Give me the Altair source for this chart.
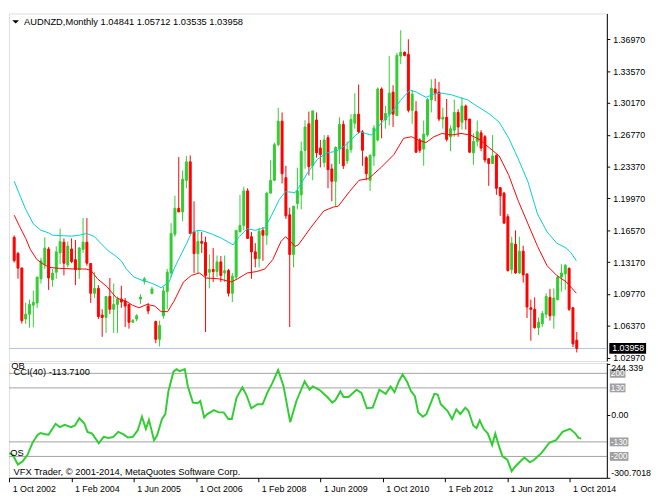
import json
import altair as alt
import pandas as pd

# ---------------- data ----------------
symbol = "AUDNZD,Monthly"

open_ = [1.1582,1.1409,1.1254,1.0710,1.0762,1.0858,1.0882,1.1140,1.1295,1.1458,
         1.1130,1.1210,1.1416,1.1530,1.1289,1.1458,1.1344,1.1238,1.1454,1.1530,
         1.1303,1.0985,1.1037,1.0752,1.0727,1.0951,1.0814,1.0866,1.0923,1.0900,
         1.0866,1.0675,1.0710,1.0923,1.1114,1.0848,1.0982,1.0683,1.0494,1.0745,
         1.1003,1.1202,1.1616,1.1892,1.1853,1.2191,1.2388,1.1640,1.1409,1.1537,
         1.1527,1.1210,1.1238,1.1217,1.1320,1.1202,1.1227,1.0985,1.1158,1.1640,
         1.1709,1.2078,1.1589,1.1427,1.1354,1.1657,1.1605,1.2054,1.2191,1.2571,
         1.2822,1.2219,1.1822,1.1399,1.1943,1.2036,1.2509,1.2794,1.2346,1.2835,
         1.2535,1.2380,1.2646,1.2312,1.2181,1.2525,1.2788,1.2398,1.2519,1.2801,
         1.2897,1.2708,1.2432,1.2191,1.2450,1.2622,1.3166,1.2835,1.2897,1.3132,
         1.2881,1.3517,1.3558,1.3535,1.2938,1.2925,1.2622,1.2525,1.2674,1.3052,
         1.3166,1.3132,1.2845,1.2863,1.2656,1.2726,1.2915,1.2811,1.2984,1.2845,
         1.2484,1.2605,1.2698,1.2656,1.2422,1.2370,1.2457,1.2112,1.2054,1.1802,
         1.1238,1.1509,1.1202,1.1434,1.1192,1.0830,1.0814,1.0618,1.0659,1.0762,
         1.0941,1.0745,1.0917,1.1158,1.1192,1.1251,1.0830,1.04841]

high = [1.1602,1.1427,1.1261,1.0882,1.0917,1.1013,1.1158,1.1365,1.1582,1.1478,
        1.1244,1.1486,1.1675,1.1571,1.1537,1.1571,1.1554,1.1478,1.1788,1.1788,
        1.1303,1.1210,1.1072,1.0814,1.0951,1.1148,1.1089,1.0951,1.1065,1.0934,
        1.0866,1.0710,1.0762,1.0975,1.1158,1.0882,1.1055,1.0693,1.0693,1.1055,
        1.1244,1.1734,1.2026,1.2439,1.2295,1.2450,1.2457,1.1967,1.1657,1.1640,
        1.1589,1.1399,1.1468,1.1388,1.1382,1.1388,1.1244,1.1202,1.1657,1.2036,
        1.2122,1.2106,1.1640,1.1520,1.1685,1.1692,1.2070,1.2405,1.2594,1.2966,
        1.2915,1.2346,1.1899,1.1915,1.2326,1.2605,1.2832,1.2925,1.2935,1.2915,
        1.2622,1.2674,1.2674,1.2367,1.2553,1.2863,1.2829,1.2605,1.2897,1.3121,
        1.3214,1.2726,1.2450,1.2470,1.2780,1.3183,1.3183,1.2984,1.3517,1.3207,
        1.3552,1.3793,1.3566,1.3697,1.3155,1.3036,1.2639,1.2829,1.3070,1.3269,
        1.3276,1.3242,1.2966,1.3059,1.2777,1.3052,1.2949,1.3077,1.3000,1.2845,
        1.2691,1.2829,1.2726,1.2674,1.2429,1.2674,1.2467,1.2122,1.2067,1.1830,
        1.1589,1.1657,1.1589,1.1492,1.1192,1.0917,1.0941,1.0727,1.0796,1.0985,
        1.1031,1.1037,1.1176,1.1295,1.1295,1.1261,1.0838,1.05712]

low = [1.1313,1.1140,1.0662,1.0659,1.0618,1.0621,1.0830,1.1089,1.1244,1.1021,
       1.1055,1.1140,1.1295,1.1176,1.1261,1.1306,1.1072,1.1140,1.1416,1.1279,
       1.0882,1.0934,1.0710,1.0520,1.0562,1.0762,1.0562,1.0562,1.0830,1.0624,
       1.0607,1.0672,1.0686,1.0872,1.1078,1.0762,1.0975,1.0452,1.0417,1.0714,
       1.0814,1.1158,1.1589,1.1853,1.1754,1.2106,1.1623,1.1202,1.1202,1.1416,
       1.0572,1.1037,1.1106,1.1158,1.1106,1.1106,1.0951,1.0892,1.1124,1.1640,
       1.1657,1.1571,1.1140,1.1261,1.1261,1.1331,1.1502,1.2054,1.2181,1.2553,
       1.2157,1.1778,1.0624,1.1261,1.1881,1.1881,1.2315,1.2243,1.2191,1.2432,
       1.2329,1.2329,1.2106,1.1967,1.1915,1.2364,1.2312,1.2364,1.2484,1.2742,
       1.2691,1.2346,1.2191,1.2078,1.2346,1.2605,1.2639,1.2742,1.2777,1.2760,
       1.2881,1.3431,1.3514,1.2915,1.2794,1.2484,1.2484,1.2346,1.2656,1.2915,
       1.3036,1.2822,1.2742,1.2605,1.2501,1.2656,1.2656,1.2732,1.2732,1.2484,
       1.2357,1.2553,1.2501,1.2380,1.2132,1.2367,1.2036,1.1812,1.1726,1.1217,
       1.1192,1.1192,1.1192,1.1099,1.0721,1.0479,1.0607,1.0538,1.0624,1.0721,
       1.0693,1.0607,1.0910,1.1003,1.1021,1.0796,1.0411,1.03535]

close = [1.1334,1.1254,1.0693,1.0762,1.0866,1.0889,1.1158,1.1331,1.1468,1.1148,
         1.1199,1.1427,1.1537,1.1306,1.1489,1.1323,1.1238,1.1468,1.1530,1.1306,
         1.0985,1.1037,1.0737,1.0727,1.0951,1.0814,1.0866,1.0923,1.0892,1.0848,
         1.0675,1.0693,1.0745,1.0944,1.1140,1.0796,1.1031,1.0494,1.0641,1.1010,
         1.1210,1.1623,1.1892,1.1853,1.2202,1.2388,1.1623,1.1409,1.1537,1.1520,
         1.1176,1.1238,1.1217,1.1320,1.1176,1.1227,1.0985,1.1168,1.1657,1.1709,
         1.2078,1.1571,1.1427,1.1354,1.1647,1.1605,1.2054,1.2191,1.2571,1.2822,
         1.2261,1.1812,1.1399,1.1915,1.2078,1.2501,1.2760,1.2336,1.2932,1.2484,
         1.2467,1.2622,1.2305,1.2181,1.2543,1.2788,1.2346,1.2519,1.2839,1.2897,
         1.2708,1.2512,1.2261,1.2457,1.2749,1.3166,1.2835,1.2904,1.3121,1.2897,
         1.3524,1.3558,1.3524,1.2938,1.3111,1.2491,1.2512,1.2684,1.3052,1.3173,
         1.3121,1.2845,1.2863,1.2628,1.2742,1.2915,1.2760,1.2984,1.2835,1.2491,
         1.2605,1.2708,1.2535,1.2408,1.2370,1.2450,1.2106,1.2026,1.1734,1.1227,
         1.1520,1.1202,1.1434,1.1182,1.0838,1.0814,1.0618,1.0675,1.0768,1.0951,
         1.0745,1.0934,1.1158,1.1202,1.1285,1.0814,1.0445,1.03958]

# moving averages drawn on the price panel (bar position, price)
cyan_i = [0,1.75,3,5,7,9,10,13,15,17,19,21,23,24.7,26,28,29.3,31.3,33.4,35,
          36.75,38.4,40.5,41.75,43.4,45.1,46.3,48,49.25,51.75,54.25,57.2,58.8,60.9,63,65.5,67.2,69.25,70.9,73.4,
          74.25,76.75,79.25,81.75,84.25,86.75,89.25,90.5,91.75,93.4,95.9,98.4,100.9,103.4,105.1,107.6,109.7,111.75,114.25,116.75,
          118.4,120.9,124.25,126.75,129.25,131.75,134.25,136.75,139.25,141.75,144.25,145.5,146.9]
cyan_v = [1.2181,1.2005,1.1881,1.1726,1.1657,1.1630,1.1605,1.1599,1.1595,1.1605,
          1.1623,1.1589,1.1502,1.1434,1.1399,1.1331,1.1244,1.1158,1.1124,1.1106,
          1.1078,1.1044,1.1106,1.1244,1.1382,1.1520,1.1630,1.1657,1.1651,1.1616,
          1.1571,1.1502,1.1589,1.1675,1.1657,1.1685,1.1812,1.1985,1.2070,1.2060,
          1.2106,1.2277,1.2416,1.2484,1.2501,1.2571,1.2674,1.2708,1.2691,1.2674,
          1.2801,1.2904,1.3042,1.3155,1.3132,1.3077,1.3111,1.3121,1.3104,1.3070,
          1.3052,1.2984,1.2897,1.2811,1.2639,1.2416,1.2174,1.1830,1.1640,1.1520,
          1.1468,1.1416,1.1331]

red_i = [0,1.3,3,4.25,5.9,7.6,9.25,11.75,15.9,18.8,20.1,21.75,24.25,26.75,29.25,30.9,32.6,34.7,36.75,38.4,
         40.1,41.75,44.25,46.3,48.4,50.1,53.4,56.75,58.4,60.9,63.4,65.5,67.6,69.7,70.9,72.2,73.4,74.25,77.6,80.9,
         83.4,84.7,87.6,90.1,92.6,95.9,99.25,101.75,103.8,105.5,107.6,109.7,111.75,114.25,116.75,119.25,121.75,124.25,126.75,129.25,
         131.75,134.25,136.75,139.25,141.75,144.25,146.9]
red_v = [1.1819,1.1709,1.1571,1.1451,1.1347,1.1295,1.1261,1.1251,1.1244,1.1244,
         1.1227,1.1140,1.1055,1.0934,1.0900,1.0858,1.0830,1.0866,1.0848,1.0789,
         1.0789,1.0900,1.1106,1.1176,1.1202,1.1148,1.1140,1.1106,1.1140,1.1202,
         1.1217,1.1244,1.1347,1.1537,1.1589,1.1537,1.1486,1.1502,1.1692,1.1864,
         1.1905,1.1915,1.2070,1.2191,1.2209,1.2329,1.2467,1.2639,1.2656,1.2622,
         1.2594,1.2656,1.2691,1.2674,1.2691,1.2674,1.2622,1.2535,1.2450,1.2243,
         1.1967,1.1726,1.1486,1.1279,1.1176,1.1106,1.0985]

# CCI(40) indicator: (bar position, value)
cci_points = [(0,-184),(0.9,-192),(2.2,-239),(3.4,-224),(4.7,-192),(5.9,-137),(7.2,-98),(8,-87),(9.25,-93),(10.1,-95),
              (11.9,-43),(13,-59),(14.25,-48),(15.9,-59),(16.9,-51),(18,-16),(19.25,-40),(20.1,-82),(21.3,-90),(23,-137),
              (24.25,-106),(25.5,-111),(26.75,-106),(28,-82),(29.25,-93),(30.5,-109),(31.75,-106),(33,-75),(34.1,-9),(35.1,-67),
              (35.9,-24),(37.2,-122),(38,-98),(39.25,-20),(40.1,4),(40.9,114),(42.2,208),(43,220),(43.8,211),(45.1,220),
              (45.9,137),(47.2,59),(48.4,56),(49.1,67),(50.1,-12),(50.9,4),(52.6,23),(53.8,12),(55.1,12),(56.3,-20),
              (57.2,-20),(58.4,82),(59.9,133),(60.9,98),(62.2,32),(63.8,51),(65.1,51),(66.3,106),(67.6,153),(69.1,216),
              (70.5,137),(72.2,-35),(73.8,67),(75.9,161),(77.2,121),(78,137),(79.7,121),(81.75,86),(83,59),(83.8,70),
              (85.1,114),(85.9,86),(87.2,86),(89.25,121),(90.5,106),(91.9,32),(93.4,35),(95.1,121),(96.75,101),(98,137),
              (99,109),(100.1,161),(101.1,195),(102.2,161),(103.25,114),(104.25,90),(105.1,12),(106.3,-9),(107.2,4),(109.25,101),
              (110.1,98),(110.9,51),(112.6,20),(113.8,-20),(114.9,27),(115.9,4),(117.2,35),(118,20),(119.25,-51),(120.1,-64),
              (120.9,-27),(121.9,-67),(123,-90),(124.1,-145),(124.9,-90),(125.9,-153),(126.75,-200),(128,-216),(129.1,-271),(130.1,-247),
              (131.75,-216),(132.4,-205),(133.8,-228),(134.9,-216),(136.75,-184),(138.8,-134),(140.5,-122),(142.2,-82),(144.1,-67),(145.5,-90),
              (146.3,-111),(147,-113.71)]
cci_period = 40
cci_last = -113.71

price_ticks = [1.02970, 1.06370, 1.09770, 1.13170, 1.16570, 1.19970,
               1.23370, 1.26770, 1.30170, 1.33570, 1.36970]
cci_levels = [200, 130, -130, -200]
cci_axis_values = [244.339, 0.0, -300.7018]
date_bars = [0, 16, 32, 48, 64, 80, 96, 112, 128, 144]
date_labels = ["1 Oct 2002", "1 Feb 2004", "1 Jun 2005", "1 Oct 2006", "1 Feb 2008",
               "1 Jun 2009", "1 Oct 2010", "1 Feb 2012", "1 Jun 2013", "1 Oct 2014"]
copyright_text = "VFX Trader, \u00a9 2001-2014, MetaQuotes Software Corp."

# ---------------- styles / layout ----------------
FONT = "Liberation Sans"
GREEN = "#32CD32"
RED = "#FF0000"
CYAN = "#00CED1"
GRID = "#A0A0A0"
LAST_LINE = "#B0C4DE"
W, H1, H2 = 609, 354, 117

bars = pd.DataFrame({"i": list(range(len(close))), "open": open_, "high": high,
                     "low": low, "close": close})
bars["dir"] = ["up" if c >= o else "down" for o, c in zip(open_, close)]

xs = alt.Scale(domain=[-0.075, 153.575], nice=False, zero=False)
ys = alt.Scale(domain=[1.0262, 1.3972], nice=False, zero=False)
cs = alt.Scale(domain=[-303, 250], nice=False, zero=False)

price_axis = alt.Axis(orient="right", values=price_ticks, format=".5f", grid=False,
                      tickSize=3, tickColor="black", domainColor="black",
                      labelPadding=3, labelFont=FONT, labelFontSize=9, labelColor="black",
                      labelFlush=False, labelOverlap=False, title=None)

cci_axis = alt.Axis(orient="right", values=cci_axis_values,
                    labelExpr="datum.value == 0 ? '0.00' : '' + datum.value",
                    grid=False, tickSize=3, tickColor="black", domainColor="black",
                    labelPadding=1, labelFont=FONT, labelFontSize=9, labelColor="black",
                    labelFlush=3, labelOverlap=False, title=None, zindex=1)

x_axis = alt.Axis(orient="bottom", values=date_bars,
                  labelExpr=f"{json.dumps(date_labels)}[indexof({json.dumps(date_bars)}, datum.value)]",
                  grid=False, tickSize=4, tickColor="black", domainColor="black",
                  labelAlign="left", labelOffset=3, labelPadding=3, labelBaseline="top",
                  labelFont=FONT, labelFontSize=9, labelColor="black",
                  labelFlush=False, labelOverlap=False, title=None)


def PX():
    return alt.X("i:Q", scale=xs, axis=None)


def PY(f):
    return alt.Y(f"{f}:Q", scale=ys, axis=price_axis)


def CX():
    return alt.X("i:Q", scale=xs, axis=x_axis)


def CY(f):
    return alt.Y(f"{f}:Q", scale=cs, axis=cci_axis)


dir_scale = alt.Scale(domain=["up", "down"], range=[GREEN, RED])

# ---------------- price panel ----------------
last_df = pd.DataFrame({"p": [close[-1]], "label": [f"{close[-1]:.5f}"]})
header_text = f"{symbol}  {open_[-1]:.5f} {high[-1]:.5f} {low[-1]:.5f} {close[-1]:.5f}"
header_df = pd.DataFrame({"t": [header_text]})

last_rule = alt.Chart(last_df).mark_rule(color=LAST_LINE, strokeWidth=1).encode(y=PY("p"))
wicks = alt.Chart(bars).mark_rule(strokeWidth=1, clip=True).encode(
    x=PX(), y=PY("low"), y2="high:Q",
    color=alt.Color("dir:N", scale=dir_scale, legend=None))
bodies = alt.Chart(bars).mark_bar(size=2, strokeWidth=1, clip=True).encode(
    x=PX(), y=PY("open"), y2="close:Q",
    color=alt.Color("dir:N", scale=dir_scale, legend=None),
    stroke=alt.Stroke("dir:N", scale=dir_scale, legend=None))
cyan_line = alt.Chart(pd.DataFrame({"i": cyan_i, "v": cyan_v})).mark_line(
    color=CYAN, strokeWidth=1, clip=True).encode(x=PX(), y=PY("v"))
red_line = alt.Chart(pd.DataFrame({"i": red_i, "v": red_v})).mark_line(
    color=RED, strokeWidth=1, clip=True).encode(x=PX(), y=PY("v"))
last_box = alt.Chart(last_df).mark_rect(color="black", yOffset=-5.5, y2Offset=5.5).encode(
    x=alt.value(611.5), x2=alt.value(649), y=PY("p"), y2="p:Q")
last_txt = alt.Chart(last_df).mark_text(color="white", align="left", baseline="middle",
                                        font=FONT, fontSize=9).encode(
    x=alt.value(614.5), y=PY("p"), text="label:N")
tri = alt.Chart(header_df).mark_point(shape="M-1,-0.5L1,-0.5L0,0.5Z", filled=True,
                                      color="black", opacity=1, size=45).encode(
    x=alt.value(6.8), y=alt.value(8.6))
header = alt.Chart(header_df).mark_text(align="left", baseline="middle", font=FONT,
                                        fontSize=9.5, color="black").encode(
    x=alt.value(15.3), y=alt.value(8.6), text="t:N")

top = alt.layer(last_rule, wicks, bodies, cyan_line, red_line, last_box, last_txt,
                tri, header).properties(width=W, height=H1)

# ---------------- CCI panel ----------------
cci_df = pd.DataFrame({"i": [p[0] for p in cci_points], "v": [p[1] for p in cci_points]})
levels_df = pd.DataFrame({"level": cci_levels, "label": [str(v) for v in cci_levels]})
texts_df = pd.DataFrame({"t": [f"CCI({cci_period}) {cci_last:.4f}"]})

grid = alt.Chart(levels_df).mark_rule(color=GRID, strokeWidth=1).encode(y=CY("level"))
cci_line = alt.Chart(cci_df).mark_line(color=GREEN, strokeWidth=2, clip=True).encode(
    x=CX(), y=CY("v"))
pos_box = alt.Chart(levels_df).transform_filter("datum.level > 0").mark_rect(
    color=GRID, yOffset=-4.5, y2Offset=4.5).encode(
    x=alt.value(612), x2=alt.value(628), y=CY("level"), y2="level:Q")
neg_box = alt.Chart(levels_df).transform_filter("datum.level < 0").mark_rect(
    color=GRID, yOffset=-4.5, y2Offset=4.5).encode(
    x=alt.value(612), x2=alt.value(631), y=CY("level"), y2="level:Q")
box_lbl = alt.Chart(levels_df).mark_text(color="white", align="left", baseline="middle",
                                         font=FONT, fontSize=8.5).encode(
    x=alt.value(613), y=CY("level"), text="label:N")


def panel_text(txt, x, y, clip=False):
    return alt.Chart(pd.DataFrame({"t": [txt]})).mark_text(
        align="left", baseline="middle", font=FONT, fontSize=9.5, color="black",
        clip=clip).encode(x=alt.value(x), y=alt.value(y), text="t:N")


cci_title = alt.Chart(texts_df).mark_text(align="left", baseline="middle", font=FONT,
                                          fontSize=9.5, color="black").encode(
    x=alt.value(4.6), y=alt.value(9.3), text="t:N")
ob_txt = panel_text("OB", 2.3, 3.5, clip=True)
os_txt = panel_text("OS", 1.3, 91.5)
copy_txt = panel_text(copyright_text, 4.6, 111.5)

bottom = alt.layer(grid, cci_line, pos_box, neg_box, box_lbl, cci_title, ob_txt,
                   os_txt, copy_txt).properties(width=W, height=H2)

chart = alt.VConcatChart(vconcat=[top, bottom], spacing=2, bounds="flush", padding=0)
chart = chart.configure_view(stroke="black", strokeWidth=1).configure(
    background="white", font=FONT)

chart.save("out.html", embed_options={"renderer": "svg", "actions": False})
